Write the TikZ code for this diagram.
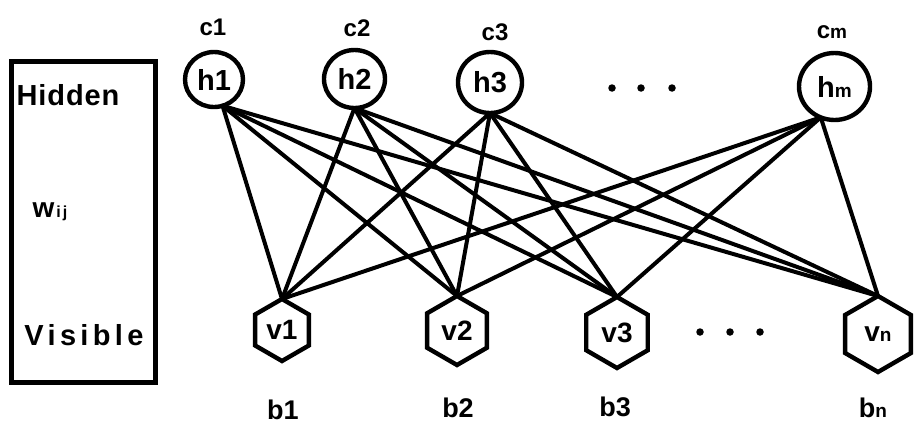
\documentclass[tikz,border=0pt]{standalone}
\usepackage{fontspec}
\setmainfont{Liberation Sans}
\newfontfamily\spacedA[LetterSpace=3]{Liberation Sans}
\newfontfamily\spacedB[LetterSpace=15]{Liberation Sans}
\usetikzlibrary{shapes.geometric}
\newcommand\smallsub[1]{{\fontsize{19}{19}\selectfont #1}}
\begin{document}
\begin{tikzpicture}[x=1pt,y=-1pt,
  hnode/.style={ellipse,draw,line width=4.4pt,inner sep=0pt,outer sep=0pt,
    font=\fontsize{29}{29}\selectfont\bfseries},
  vnode/.style={regular polygon,regular polygon sides=6,shape border rotate=30,
    draw,line width=4.4pt,inner sep=0pt,outer sep=0pt,
    font=\fontsize{28}{28}\selectfont\bfseries},
  blabel/.style={font=\fontsize{27}{27}\selectfont\bfseries,inner sep=0pt},
  clabel/.style={font=\fontsize{24}{24}\selectfont\bfseries,inner sep=0pt},
  edge/.style={line width=4pt},
  dot/.style={circle,fill,inner sep=0pt,minimum size=7.5pt}]
\useasboundingbox (0,0) rectangle (923,434);
% legend box
\node[draw,line width=5pt,minimum width=144.5pt,minimum height=321.5pt,inner sep=0pt] (box) at (83.25,221.75) {};
\node[font=\fontsize{29}{29}\selectfont\bfseries\spacedA,inner sep=0pt] (hid) at (68,95) {Hidden};
\node[font=\fontsize{29}{29}\selectfont\bfseries\spacedB,inner sep=0pt] (vis) at (84,335) {Visible};
\node[font=\fontsize{28}{28}\selectfont\bfseries,inner sep=0pt] (w) at (50,212) {w\hspace{2pt}{\fontsize{16}{16}\selectfont i\hspace{2pt}j}};
% hidden nodes
\node[hnode,minimum width=58pt,minimum height=55pt] (h1) at (214,79.5) {h1};
\node[hnode,minimum width=61pt,minimum height=58pt] (h2) at (354.5,79) {h2};
\node[hnode,minimum width=64pt,minimum height=61pt] (h3) at (490,82.5) {h3};
\node[hnode,minimum width=71pt,minimum height=67pt] (hm) at (834.5,86.5) {h\smallsub{m}};
\node[clabel] (c1) at (213,27) {c1};
\node[clabel] (c2) at (357,28) {c2};
\node[clabel] (c3) at (495,32) {c3};
\node[clabel] (cm) at (832,32) {c\smallsub{m}};
\node[dot] (td1) at (612,88) {};
\node[dot] (td2) at (641,88) {};
\node[dot] (td3) at (672,88) {};
% visible nodes
\node[vnode,minimum size=62pt] (v1) at (282,330) {v1};
\node[vnode,minimum size=69pt] (v2) at (457,330.5) {v2};
\node[vnode,minimum size=71pt] (v3) at (617,332.5) {v3};
\node[vnode,minimum size=76pt] (vn) at (878,334) {v\smallsub{n}};
\node[blabel] (b1) at (283,410) {b1};
\node[blabel] (b2) at (458,408) {b2};
\node[blabel] (b3) at (615,407) {b3};
\node[blabel] (bn) at (873,408) {b\smallsub{n}};
\node[dot] (bd1) at (700,332) {};
\node[dot] (bd2) at (730,332) {};
\node[dot] (bd3) at (760,332) {};
% weights
\foreach \h/\a in {h1/-72,h2/-90,h3/-90,hm/-114}
  \foreach \v in {v1,v2,v3,vn}
    \draw[edge] (\h.\a) -- (\v.90);
\end{tikzpicture}
\end{document}
